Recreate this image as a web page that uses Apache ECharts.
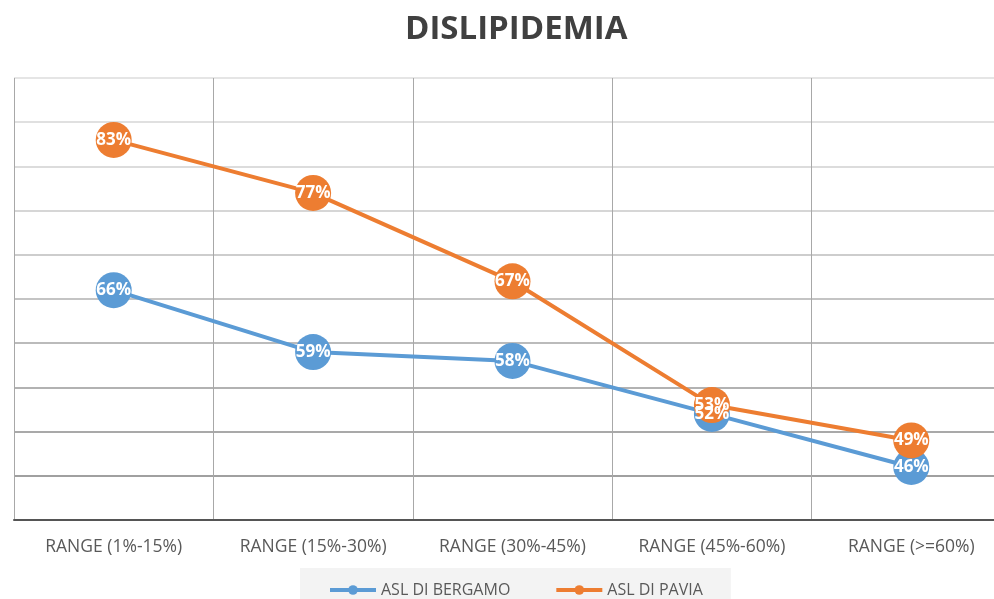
<!DOCTYPE html>
<html>
<head>
<meta charset="utf-8">
<script src="https://cdn.jsdelivr.net/npm/echarts@6/dist/echarts.min.js"></script>
<style>
  html, body { margin: 0; padding: 0; background: #fff; overflow: hidden; }
  #chart { width: 1020px; height: 599px; }
</style>
</head>
<body>
<div id="chart"></div>
<script>
// categories on the x axis
const categories = [
  'RANGE (1%-15%)',
  'RANGE (15%-30%)',
  'RANGE (30%-45%)',
  'RANGE (45%-60%)',
  'RANGE (>=60%)'
];

// values in percent
const bergamo = [66, 59, 58, 52, 46];
const pavia = [83, 77, 67, 53, 49];

const seriesNames = ['ASL DI BERGAMO', 'ASL DI PAVIA'];
const colors = ['#5B9BD5', '#ED7D31'];

// grid lines get darker toward the bottom in the picture
const splitColors = ['#dcdcdc', '#d6d6d6', '#d0d0d0', '#c8c8c8', '#bcbcbc',
  '#b0b0b0', '#a4a4a4', '#989898', '#8c8c8c', '#808080', '#777777'];

const font = '"Open Sans", "Noto Sans", sans-serif';

function makeSeries(name, data, color) {
  return {
    name: name,
    type: 'line',
    data: data,
    symbol: 'circle',
    symbolSize: 36,
    itemStyle: { color: color },
    lineStyle: { color: color, width: 4 },
    label: {
      show: true,
      position: 'inside',
      formatter: '{c}%',
      color: '#fff',
      fontWeight: 'bold',
      fontSize: 17,
      fontFamily: font
    },
    emphasis: { disabled: true }
  };
}

// the chart is a bit wider than the window, the right edge is cut off like in the picture
const chart = echarts.init(document.getElementById('chart'));
chart.setOption({
  animation: false,
  backgroundColor: '#fff',
  color: colors,
  title: {
    text: 'DISLIPIDEMIA',
    left: 400,
    top: 8,
    textStyle: {
      fontFamily: font,
      fontWeight: 'bold',
      fontSize: 33,
      color: '#404040'
    }
  },
  legend: {
    data: seriesNames,
    left: 300,
    top: 568,
    padding: [14, 28, 12, 28],
    itemGap: 44,
    itemWidth: 46,
    itemHeight: 12,
    lineStyle: { width: 4 },
    backgroundColor: '#f3f3f3',
    textStyle: { fontFamily: font, fontSize: 16, color: '#595959' }
  },
  grid: {
    left: 14,
    top: 78,
    width: 997,
    height: 442,
    containLabel: false
  },
  xAxis: {
    type: 'category',
    data: categories,
    boundaryGap: true,
    axisLine: { show: true, lineStyle: { color: '#555', width: 2 } },
    axisTick: { show: false },
    axisLabel: {
      fontFamily: font,
      fontSize: 17.5,
      color: '#595959',
      margin: 18,
      interval: 0
    },
    splitLine: {
      show: true,
      interval: 0,
      lineStyle: { color: '#a8a8a8', width: 1 }
    }
  },
  yAxis: {
    type: 'value',
    min: 40,
    max: 90,
    interval: 5,
    axisLine: { show: false },
    axisTick: { show: false },
    axisLabel: { show: false },
    splitLine: { show: true, lineStyle: { color: splitColors.slice().reverse(), width: 1.5 } }
  },
  series: [
    makeSeries(seriesNames[0], bergamo, colors[0]),
    makeSeries(seriesNames[1], pavia, colors[1])
  ]
});
</script>
</body>
</html>
